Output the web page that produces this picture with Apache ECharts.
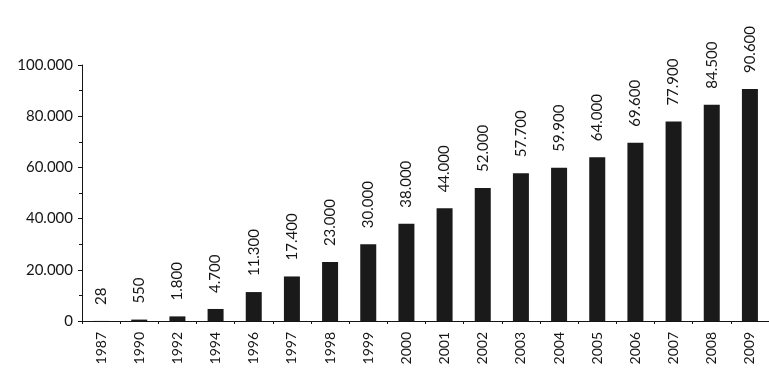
<!DOCTYPE html>
<html>
<head>
<meta charset="utf-8">
<script src="https://cdn.jsdelivr.net/npm/echarts@6/dist/echarts.min.js"></script>
<style>
	html, body { margin: 0; padding: 0; background: #fff; }
	#chart { width: 769px; height: 369px; }
</style>
</head>
<body>
<div id="chart"></div>
<script>
// jaren en aantallen
var years = ['1987','1990','1992','1994','1996','1997','1998','1999','2000','2001','2002','2003','2004','2005','2006','2007','2008','2009'];
var values = [28, 550, 1800, 4700, 11300, 17400, 23000, 30000, 38000, 44000, 52000, 57700, 59900, 64000, 69600, 77900, 84500, 90600];
var yTicks = [0, 20000, 40000, 60000, 80000, 100000];

// 12300 -> "12.300"
function dots(v){
	return String(v).replace(/\B(?=(\d{3})+(?!\d))/g, '.');
}

var font = 'Lato';
var ink = '#151515';

var option = {
	animation: false,
	backgroundColor: '#fff',
	grid: { left: 82, top: 65, bottom: 48, right: -5 },
	xAxis: {
		type: 'category',
		data: years,
		axisLine: { lineStyle: { color: ink, width: 1 } },
		axisTick: { show: true, length: 3, lineStyle: { color: ink } },
		axisLabel: {
			rotate: 90,
			margin: 11,
			color: ink,
			fontFamily: font,
			fontSize: 14
		}
	},
	yAxis: {
		type: 'value',
		min: yTicks[0],
		max: yTicks[yTicks.length - 1],
		interval: 20000,
		splitLine: { show: false },
		axisLine: { show: true, lineStyle: { color: ink, width: 1 } },
		axisTick: { show: true, length: 4, lineStyle: { color: ink } },
		minorTick: { show: true, splitNumber: 2, length: 3, lineStyle: { color: ink } },
		axisLabel: {
			margin: 9,
			color: ink,
			fontFamily: font,
			fontSize: 15,
			formatter: function (v) { return dots(v); }
		}
	},
	series: [
		{
			type: 'bar',
			data: values,
			barWidth: 16,
			itemStyle: { color: '#1a1a1a' },
			label: {
				show: true,
				position: 'top',
				rotate: 90,
				align: 'left',
				verticalAlign: 'middle',
				distance: 16,
				color: ink,
				fontFamily: font,
				fontSize: 15,
				formatter: function (p) { return dots(p.value); }
			}
		}
	]
};

var myChart = echarts.init(document.getElementById('chart'));
myChart.setOption(option);
</script>
</body>
</html>
